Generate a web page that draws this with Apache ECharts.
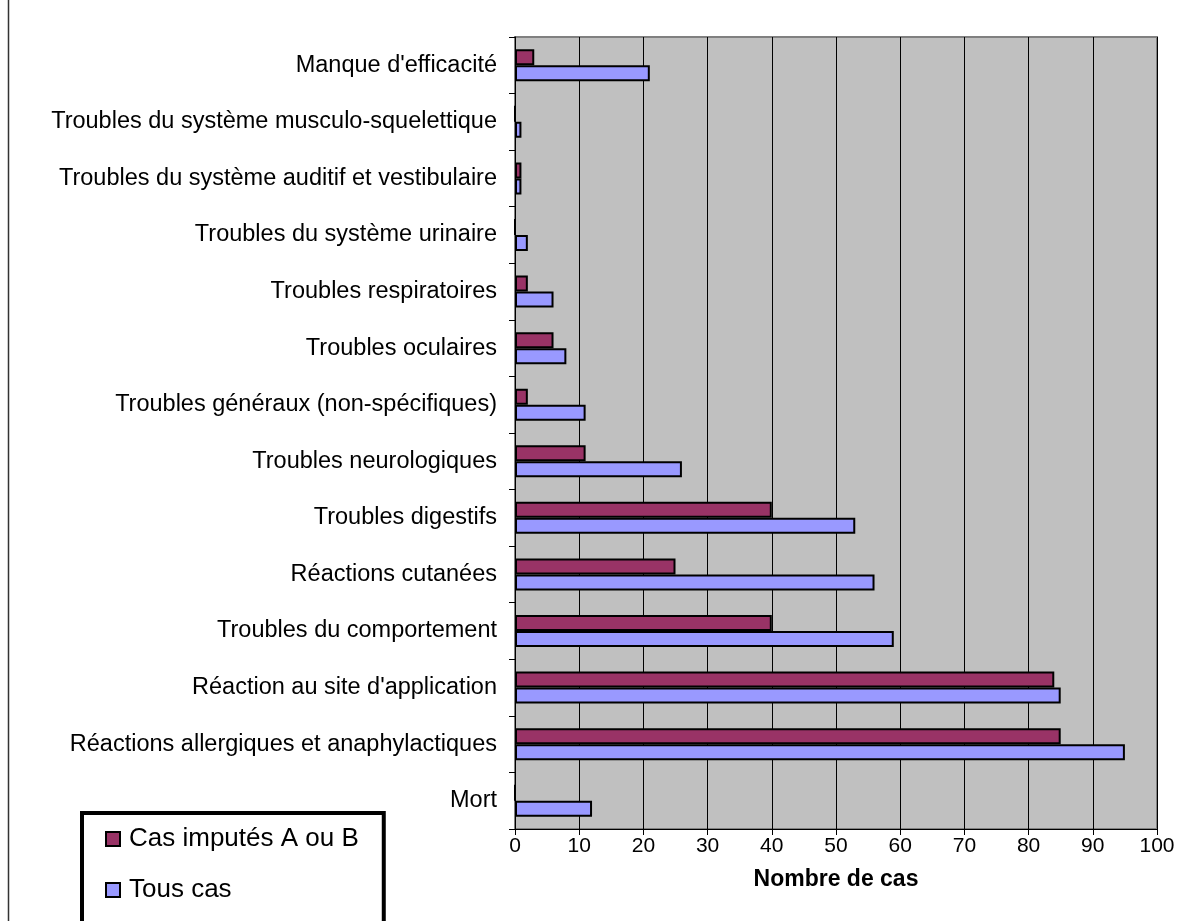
<!DOCTYPE html>
<html>
<head>
<meta charset="utf-8">
<script src="https://cdn.jsdelivr.net/npm/echarts@6/dist/echarts.min.js"></script>
<style>
  html, body { margin: 0; padding: 0; background: #ffffff; }
  #chart { width: 1183px; height: 921px; }
</style>
</head>
<body>
<div id="chart"></div>
<script>
// Categories, bottom to top
const categories = [
  "Mort",
  "Réactions allergiques et anaphylactiques",
  "Réaction au site d'application",
  "Troubles du comportement",
  "Réactions cutanées",
  "Troubles digestifs",
  "Troubles neurologiques",
  "Troubles généraux (non-spécifiques)",
  "Troubles oculaires",
  "Troubles respiratoires",
  "Troubles du système urinaire",
  "Troubles du système auditif et vestibulaire",
  "Troubles du système musculo-squelettique",
  "Manque d'efficacité"
];
const casImputes = [0, 85, 84, 40, 25, 40, 11, 2, 6, 2, 0, 1, 0, 3];
const tousCas = [12, 95, 85, 59, 56, 53, 26, 11, 8, 6, 2, 1, 1, 21];
const seriesNames = ["Cas imputés A ou B", "Tous cas"];
const xTicks = { min: 0, max: 100, step: 10 };

const font = "Liberation Sans, Arial, sans-serif";
const chart = echarts.init(document.getElementById('chart'), null, { renderer: 'canvas' });

chart.setOption({
  animation: false,
  backgroundColor: '#ffffff',
  textStyle: { fontFamily: font, color: '#000' },
  grid: {
    left: 515, top: 37, right: 26, bottom: 92,
    show: true, backgroundColor: '#C0C0C0',
    borderColor: '#808080', borderWidth: 2
  },
  legend: {
    orient: 'vertical',
    left: 82, top: 813,
    height: 300,
    data: seriesNames,
    icon: 'rect',
    itemWidth: 14, itemHeight: 14,
    itemGap: 25,
    padding: [13, 25, 60, 23],
    borderColor: '#000', borderWidth: 4,
    backgroundColor: '#fff',
    textStyle: { fontFamily: font, fontSize: 26, color: '#000', padding: [0, 0, 0, 4] },
    itemStyle: { borderColor: '#000', borderWidth: 2 }
  },
  xAxis: {
    type: 'value',
    min: xTicks.min, max: xTicks.max, interval: xTicks.step,
    name: 'Nombre de cas',
    nameLocation: 'middle',
    nameGap: 39,
    nameTextStyle: { fontFamily: font, fontSize: 23, fontWeight: 'bold', color: '#000' },
    axisLine: { show: true, lineStyle: { color: '#000', width: 1 } },
    axisTick: { show: true, length: 6, lineStyle: { color: '#000' } },
    axisLabel: { fontFamily: font, fontSize: 21, color: '#000', margin: 7 },
    splitLine: { show: true, lineStyle: { color: '#000', width: 1 } }
  },
  yAxis: {
    type: 'category',
    data: categories,
    axisLine: { show: true, lineStyle: { color: '#000', width: 1 } },
    axisTick: { show: true, length: 6, lineStyle: { color: '#000' } },
    axisLabel: { fontFamily: font, fontSize: 23.5, color: '#000', margin: 18 }
  },
  series: [
    {
      name: seriesNames[0], type: 'bar', data: casImputes,
      barWidth: 16, barGap: '0%',
      itemStyle: { color: '#993366', borderColor: '#000', borderWidth: 2 }
    },
    {
      name: seriesNames[1], type: 'bar', data: tousCas,
      barWidth: 16, barGap: '0%',
      itemStyle: { color: '#9999FF', borderColor: '#000', borderWidth: 2 }
    }
  ],
  graphic: [
    { type: 'line', shape: { x1: 8.5, y1: 0, x2: 8.5, y2: 921 }, style: { stroke: '#333', lineWidth: 1.5 } }
  ]
});
</script>
</body>
</html>
